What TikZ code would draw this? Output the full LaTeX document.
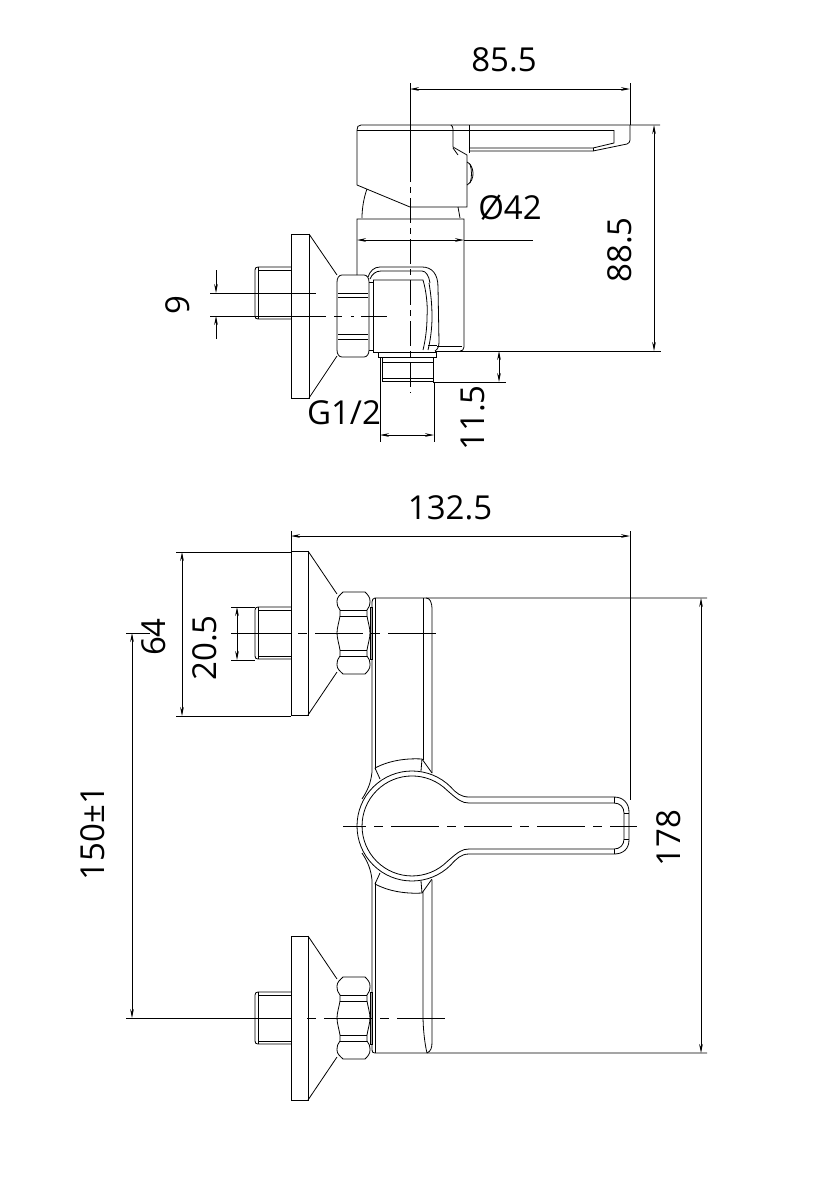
\documentclass[tikz,border=0pt]{standalone}
\usepackage{fontspec}
\setmainfont{Open Sans}
\usetikzlibrary{arrows.meta}
\tikzset{
  partline/.style={line width=0.8pt},
  dimline/.style={line width=0.8pt,{Stealth[length=9pt,width=3.6pt]}-{Stealth[length=9pt,width=3.6pt]}},
  extline/.style={line width=0.8pt},
  axisline/.style={line width=0.8pt,dash pattern=on 48pt off 8pt on 9pt off 8pt},
  dimtext/.style={inner sep=0pt,font=\fontsize{33}{33}\selectfont},
}
\begin{document}
\begin{tikzpicture}[x=1pt,y=-1pt]
\useasboundingbox (0,0) rectangle (834,1181);
% side view, handle
\draw [partline] (357,185) -- (357,130) .. controls (357,127) and (358,125) .. (361,125) -- (660,125);
\draw [partline] (357,130) -- (614,130);
\draw [partline] (357,185) -- (410,207) -- (467,207) -- (467,155) -- (453,147) -- (453,129) .. controls (453,127) and (452,126) .. (451,125);
\draw [partline] (469,125) -- (469,153);
\draw [partline] (458,155) -- (453,148);
\draw [partline] (469,148) -- (593,148) -- (614,143) -- (614,130);
\draw [partline] (469,151) -- (593,151) -- (627,144) .. controls (629,143) and (630,142) .. (630,140) -- (630,125);
\draw [partline] (593,148) -- (593,151);
\draw [partline] (467,162) .. controls (474,165) and (476,180) .. (467,185);
\draw [partline] (470,164) .. controls (472,170) and (472,178) .. (470,183);
\draw [partline] (367,189) .. controls (364,197) and (362,208) .. (362,218);
\draw [partline] (458,207) -- (460,218);
% side view, body and elbow
\draw [partline] (357,275) -- (357,219) -- (464,219) -- (464,347) .. controls (464,350) and (462,351) .. (460,351);
\draw [partline] (437,346) -- (462,346);
\draw [partline] (368,277) .. controls (370,271) and (374,267) .. (380,267) -- (422,267) .. controls (432,267) and (438,274) .. (438,287) -- (439,342) .. controls (439,346) and (438,349) .. (435,351);
\draw [partline] (370,279) .. controls (372,274) and (376,271) .. (381,271) -- (422,271) .. controls (426,271) and (429,276) .. (430,283);
\draw [partline] (373,280) -- (423,280) .. controls (426,290) and (428,305) .. (427,317) .. controls (427,330) and (425,342) .. (423,350);
\draw [partline] (429,283) .. controls (431,295) and (432,305) .. (432,317) .. controls (432,330) and (430,342) .. (428,350);
\draw [partline] (373,280) -- (373,352);
\draw [partline] (428,345) -- (437,345);
\draw [partline] (373,352) -- (436,352);
\draw [partline] (378,352) -- (378,357) -- (436,357) -- (436,351);
\draw [partline] (382,357) -- (382,381) -- (433,381) -- (433,357);
\draw [partline] (382,362) -- (433,362);
\draw [partline] (382,378) -- (433,378);
% side view, inlet
\draw [partline] (291,234) rectangle (309,398);
\draw [partline] (309,234) -- (337,275);
\draw [partline] (309,398) -- (337,356);
\draw [partline] (291,267) -- (258,267) .. controls (256,267) and (255,268) .. (255,270) -- (255,316) .. controls (255,318) and (256,319) .. (258,319) -- (291,319);
\draw [partline] (258,267) -- (258,319);
\draw [partline] (258,270) -- (291,270);
\draw [partline] (342,275) -- (364,275) .. controls (367,275) and (369,278) .. (369,282) -- (369,350) .. controls (369,354) and (367,357) .. (364,357) -- (342,357) .. controls (339,357) and (337,354) .. (337,350) -- (337,282) .. controls (337,278) and (339,275) .. (342,275);
\foreach \hexy in {293,297,334,339}
  \draw [partline] (338,\hexy) -- (368,\hexy);
\draw [partline] (369,282) -- (373,282) -- (373,350) -- (369,350);
% front view, inlets
\foreach \inlety in {633,1018} {
  \begin{scope}[shift={(0,\inlety)}]
  \draw [partline] (291,-82) rectangle (308,82);
  \draw [partline] (308,-82) -- (337,-39);
  \draw [partline] (308,82) -- (337,39);
  \draw [partline] (291,-26) -- (258,-26) .. controls (256,-26) and (255,-25) .. (255,-23) -- (255,23) .. controls (255,25) and (256,26) .. (258,26) -- (291,26);
  \draw [partline] (258,-26) -- (258,26);
  \draw [partline] (258,-23) -- (291,-23);
  \draw [partline] (258,23) -- (291,23);
  \draw [partline] (343,-41) -- (365,-41) .. controls (368,-38) and (370,-36) .. (370,-32) .. controls (370,-28) and (369,-25) .. (367,-23) -- (367,-17) .. controls (368,-11) and (370,-5) .. (370,0) .. controls (370,5) and (368,11) .. (367,17) -- (367,23) .. controls (369,25) and (370,28) .. (370,32) .. controls (370,36) and (368,38) .. (365,41) -- (343,41) .. controls (340,38) and (337,36) .. (337,32) .. controls (337,28) and (338,25) .. (340,23) -- (340,17) .. controls (339,11) and (337,5) .. (337,0) .. controls (337,-5) and (339,-11) .. (340,-17) -- (340,-23) .. controls (338,-25) and (337,-28) .. (337,-32) .. controls (337,-36) and (340,-38) .. (343,-41);
  \draw [partline] (340,-23) -- (367,-23);
  \draw [partline] (340,-17) -- (367,-17);
  \draw [partline] (340,17) -- (367,17);
  \draw [partline] (340,23) -- (367,23);
  \draw [partline] (370,-26) -- (372,-26) -- (372,26) -- (370,26) -- cycle;
  \end{scope}
}
% front view, body
\draw [partline] (372,602) .. controls (372,600) and (373,598) .. (375,598) -- (707,598);
\draw [partline] (372,602) -- (372,772) .. controls (371,782) and (368,790) .. (362,799);
\draw [partline] (375,598) -- (375,770);
\draw [partline] (423,598) -- (423,760);
\draw [partline] (426,598) .. controls (430,598) and (432,602) .. (432,610) -- (432,773);
\draw [partline] (372,880) .. controls (371,870) and (368,862) .. (362,853);
\draw [partline] (372,880) -- (372,1050) .. controls (372,1052) and (373,1053) .. (375,1053) -- (707,1053);
\draw [partline] (375,882) -- (375,1053);
\draw [partline] (423,892) -- (423,1015) .. controls (423,1030) and (425,1045) .. (427,1053);
\draw [partline] (432,880) -- (432,1042) .. controls (432,1048) and (431,1051) .. (427,1053);
% front view, lever
\draw [partline] (469,797) .. controls (461,797) and (456,793) .. (450.9,787.1) arc [start angle=-45,end angle=-315,radius=55] .. controls (456,859) and (461,854) .. (469,854);
\draw [partline] (469,803) .. controls (462,803) and (458,800) .. (447.4,790.6) arc [start angle=-45,end angle=-315,radius=50] .. controls (458,852) and (462,849) .. (469,849);
\draw [partline] (469,797) -- (614,797) .. controls (623,797) and (629,803) .. (629,812) -- (629,840) .. controls (629,849) and (623,854) .. (614,854) -- (469,854);
\draw [partline] (469,803) -- (614,803) .. controls (620,803) and (624,807) .. (624,813) -- (624,839) .. controls (624,845) and (620,849) .. (614,849) -- (469,849);
\draw [partline] (614,797) -- (614,803);
\draw [partline] (614,854) -- (614,849);
\draw [partline] (624,813) -- (629,813);
\draw [partline] (624,839) -- (629,839);
\draw [partline] (375,768) .. controls (388,761) and (405,758) .. (422,759) -- (432,773);
\draw [partline] (375,768) -- (380,779);
\draw [partline] (422,759) -- (421,771);
\draw [partline] (375,884) .. controls (388,891) and (405,894) .. (422,893) -- (432,879);
\draw [partline] (375,884) -- (380,873);
\draw [partline] (422,893) -- (421,881);
% centre lines
\draw [extline] (410,83) -- (410,157);
\draw [axisline,dash pattern=on 25pt off 5pt on 6pt off 5pt] (410,157) -- (410,393);
\draw [extline] (210,293) -- (316,293);
\draw [extline] (210,316) -- (326,316);
\draw [axisline,dash pattern=on 8pt off 9pt on 3pt off 7pt on 27pt] (334,316) -- (387,316);
\draw [extline] (231,633) -- (291,633);
\draw [axisline,dash phase=56pt] (298,633) -- (440,633);
\draw [extline] (126,1018) -- (291,1018);
\draw [axisline,dash phase=56pt] (307,1018) -- (452,1018);
\draw [axisline,dash phase=25pt] (343,826) -- (637,826);
% side view, dimensions
\coordinate (sideaxis) at (410,89);
\coordinate (sidetip) at (630,89);
\draw [dimline] (sideaxis) -- (sidetip);
\draw [extline] (630,83) -- (630,125);
\node [dimtext] (lbllever) at (504,60) {85.5};
\coordinate (bodyleft) at (357,240);
\coordinate (bodyright) at (464,240);
\draw [dimline] (bodyleft) -- (bodyright);
\draw [extline] (bodyright) -- (533,240);
\node [dimtext] (lblbody) at (510,208) {Ø42};
\coordinate (sidetop) at (654,125);
\coordinate (sidebase) at (654,351);
\draw [dimline] (sidetop) -- (sidebase);
\draw [extline] (435,351) -- (661,351);
\node [dimtext,rotate=90] (lblheight) at (620,250) {88.5};
\coordinate (threadtop) at (499,351);
\coordinate (threadend) at (499,382);
\draw [dimline] (threadtop) -- (threadend);
\draw [extline] (433,382) -- (506,382);
\node [dimtext,rotate=90] (lblthread) at (473,418) {11.5};
\coordinate (threadleft) at (380,435);
\coordinate (threadright) at (434,435);
\draw [dimline] (threadleft) -- (threadright);
\draw [extline] (380,358) -- (380,442);
\draw [extline] (434,382) -- (434,442);
\node [dimtext] (lblgauge) at (344,413) {G1/2};
\coordinate (offsettop) at (216,293);
\coordinate (offsetbase) at (216,316);
\draw [extline,-{Stealth[length=9pt,width=3.6pt]}] (216,270) -- (offsettop);
\draw [extline,-{Stealth[length=9pt,width=3.6pt]}] (216,339) -- (offsetbase);
\node [dimtext,rotate=90] (lbloffset) at (178,305) {9};
% front view, dimensions
\coordinate (frontleft) at (291,536);
\coordinate (fronttip) at (630,536);
\draw [dimline] (frontleft) -- (fronttip);
\draw [extline] (291,531) -- (291,552);
\draw [extline] (630,531) -- (630,800);
\node [dimtext] (lblwidth) at (450,508) {132.5};
\coordinate (flangetop) at (182,552);
\coordinate (flangebase) at (182,716);
\draw [dimline] (flangetop) -- (flangebase);
\draw [extline] (176,552) -- (291,552);
\draw [extline] (176,716) -- (291,716);
\node [dimtext,rotate=90] (lblflange) at (154,637) {64};
\coordinate (pipetop) at (237,607);
\coordinate (pipebase) at (237,660);
\draw [dimline] (pipetop) -- (pipebase);
\draw [extline] (231,607) -- (255,607);
\draw [extline] (231,660) -- (255,660);
\node [dimtext,rotate=90] (lblpipe) at (205,648) {20.5};
\coordinate (centretop) at (132,633);
\coordinate (centrebase) at (132,1018);
\draw [dimline] (centretop) -- (centrebase);
\draw [extline] (126,633) -- (150,633);
\node [dimtext,rotate=90] (lblcentres) at (93,833) {150±1};
\coordinate (bodytop) at (701,598);
\coordinate (bodybase) at (701,1053);
\draw [dimline] (bodytop) -- (bodybase);
\node [dimtext,rotate=90] (lbloverall) at (669,838) {178};
\end{tikzpicture}
\end{document}
